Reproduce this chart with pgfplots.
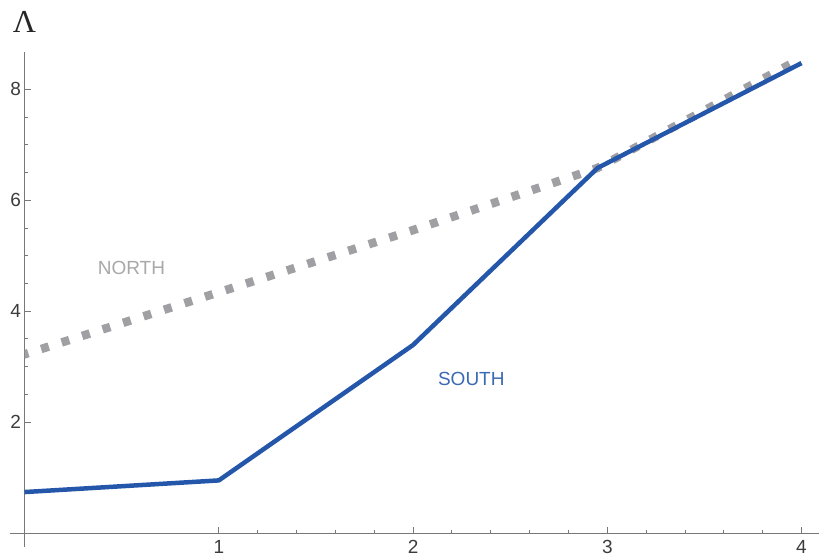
\documentclass[border=0pt]{standalone}
\usepackage{pgfplots}
\pgfplotsset{compat=1.18}
\usepackage{fontspec}
\setmainfont{Liberation Sans}
\newfontfamily\seriffont{Liberation Serif}
\definecolor{southblue}{RGB}{36,86,170}
\definecolor{southtext}{RGB}{60,105,180}
\definecolor{northgray}{RGB}{160,160,164}
\definecolor{northtext}{RGB}{168,168,170}
\definecolor{axgray}{RGB}{120,120,120}
\definecolor{ticktext}{RGB}{60,60,60}
\begin{document}
\begin{tikzpicture}
\begin{axis}[
  at={(10pt,13pt)}, anchor=south west,
  scale only axis, width=809pt, height=495pt,
  xmin=-0.075, xmax=4.09, ymin=-0.25, ymax=8.67,
  axis lines=middle, axis line style={-, axgray, line width=0.8pt},
  xtick={1,2,3,4}, ytick={2,4,6,8},
  minor x tick num=4, minor y tick num=3,
  tick align=inside,
  major tick length=6pt, minor tick length=3.5pt,
  tick style={axgray, line width=0.8pt},
  tick label style={font=\fontsize{19}{21}\selectfont, text=ticktext},
  /pgf/number format/assume math mode=true,
  xticklabel style={yshift=-4pt},
  clip=false,
]
\begin{scope}
\clip (axis cs:0,-0.25) rectangle (axis cs:4.09,8.67);
\addplot[northgray, line width=8.5pt, dash pattern=on 8pt off 13.5pt] coordinates {
  (-0.02,3.20) (1,4.34) (2,5.46) (2.95,6.58) (4,8.56)
};
\end{scope}
\addplot[southblue, line width=4.5pt, line join=round] coordinates {
  (0,0.74) (1,0.95) (2,3.39) (2.95,6.58) (4,8.47)
};
\node[text=northtext, font=\fontsize{19}{21}\selectfont] at (axis cs:0.55,4.77) {NORTH};
\node[text=southtext, font=\fontsize{19}{21}\selectfont] at (axis cs:2.30,2.77) {SOUTH};
\node[font=\fontsize{32}{34}\selectfont\seriffont, text=black!85] at (axis cs:0,9.22) {Λ};
\end{axis}
\pgfresetboundingbox
\useasboundingbox (0,0) rectangle (839pt,560pt);
\end{tikzpicture}
\end{document}
